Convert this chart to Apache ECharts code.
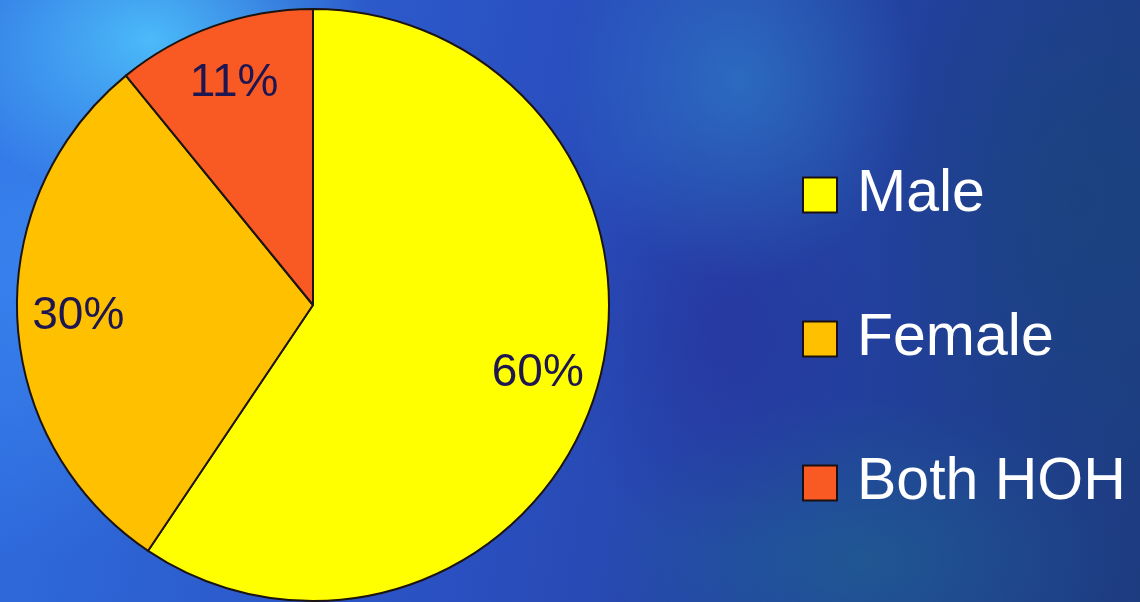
<!DOCTYPE html>
<html>
<head>
<meta charset="utf-8">
<title>Head of household</title>
<script src="https://cdn.jsdelivr.net/npm/echarts@6/dist/echarts.min.js"></script>
<style>
  html, body { margin: 0; padding: 0; width: 1140px; height: 602px; overflow: hidden; }
  body {
    background:
      radial-gradient(ellipse 220px 160px at 150px 40px, rgba(80,200,255,0.85), rgba(80,200,255,0) 100%),
      radial-gradient(ellipse 260px 300px at 40px 260px, rgba(60,140,245,0.7), rgba(60,140,245,0) 100%),
      radial-gradient(ellipse 180px 200px at 740px 80px, rgba(50,140,210,0.5), rgba(50,140,210,0) 100%),
      radial-gradient(ellipse 160px 220px at 720px 330px, rgba(40,40,150,0.45), rgba(40,40,150,0) 100%),
      radial-gradient(ellipse 260px 160px at 860px 560px, rgba(30,110,140,0.5), rgba(30,110,140,0) 100%),
      radial-gradient(ellipse 200px 300px at 1080px 200px, rgba(25,70,120,0.6), rgba(25,70,120,0) 100%),
      linear-gradient(100deg, #2f6fe0 0%, #2a4fc0 45%, #22409c 75%, #1d3c80 100%);
  }
  #chart { width: 1140px; height: 602px; }
</style>
</head>
<body>
<div id="chart"></div>
<script>
// Share of heads of household, in percent (labels as shown, sum 101 from rounding)
const categories = ['Male', 'Female', 'Both HOH'];
const shares = [60, 30, 11];
const sliceColors = ['#ffff00', '#ffc000', '#f95a24'];

const sliceData = categories.map((name, i) => ({
  name: name,
  value: shares[i],
  itemStyle: { color: sliceColors[i] }
}));

const chart = echarts.init(document.getElementById('chart'));

chart.setOption({
  backgroundColor: 'transparent',
  animation: false,
  legend: {
    orient: 'vertical',
    left: 802,
    top: 165,
    padding: 0,
    icon: 'rect',
    itemWidth: 34,
    itemHeight: 35,
    itemGap: 84,
    selectedMode: false,
    data: categories.map((name, i) => ({
      name: name,
      itemStyle: { color: sliceColors[i], borderColor: '#1a1010', borderWidth: 2 }
    })),
    textStyle: {
      color: '#ffffff',
      fontFamily: 'Liberation Sans',
      fontSize: 59,
      lineHeight: 60,
      padding: [0, 0, 0, 15]
    }
  },
  series: [
    {
      // the pie itself
      type: 'pie',
      center: [313, 305],
      radius: [0, 296],
      startAngle: 90,
      clockwise: true,
      silent: true,
      data: sliceData,
      itemStyle: { borderColor: '#1c1410', borderWidth: 2 },
      label: { show: false },
      labelLine: { show: false }
    },
    {
      // percentage labels, placed part-way out along each slice
      type: 'pie',
      center: [313, 305],
      radius: [168, 296],
      startAngle: 90,
      clockwise: true,
      silent: true,
      data: categories.map((name, i) => ({ name: name, value: shares[i] })),
      itemStyle: { color: 'rgba(0,0,0,0)', borderWidth: 0 },
      label: {
        show: true,
        position: 'inside',
        formatter: '{c}%',
        color: '#1e1650',
        fontFamily: 'Liberation Sans',
        fontSize: 46
      },
      labelLine: { show: false }
    }
  ]
});
</script>
</body>
</html>
